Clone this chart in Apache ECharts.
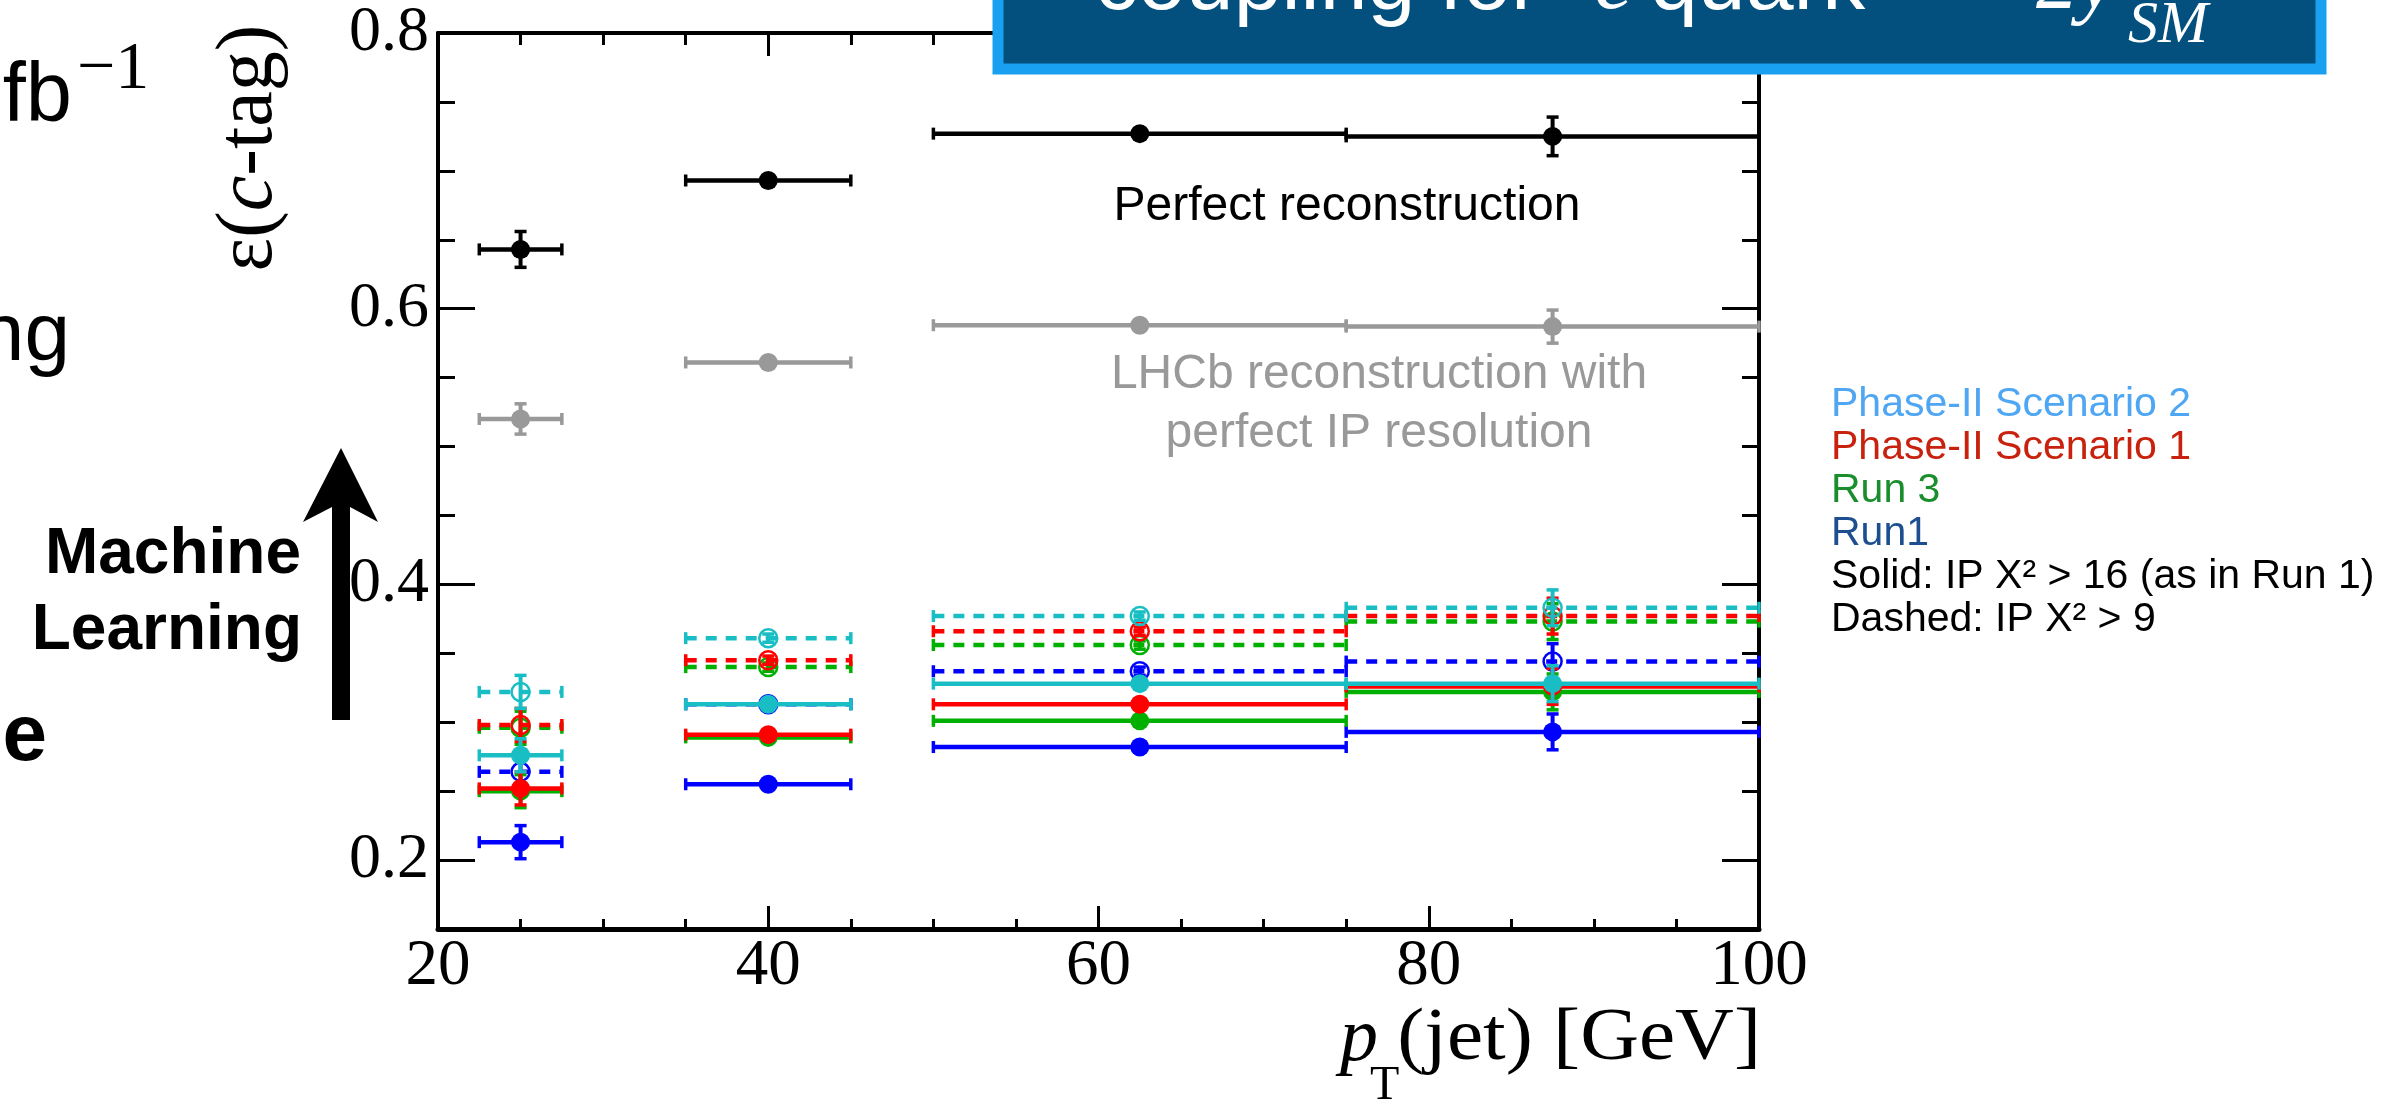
<!DOCTYPE html>
<html>
<head>
<meta charset="utf-8">
<script src="https://cdn.jsdelivr.net/npm/echarts@6/dist/echarts.min.js"></script>
<style>
html,body{margin:0;padding:0;background:#fff;}
#chart{width:2397px;height:1102px;}
</style>
</head>
<body>
<div id="chart"></div>
<script>
// ---- data ----
const ptBinCenter = [25, 40, 62.5, 87.5];
const ptBinLow    = [22.5, 35, 50, 75];
const ptBinHigh   = [27.5, 45, 75, 100];

const effPerfect      = [0.643, 0.693, 0.727, 0.725];
const errPerfect      = [0.013, 0.003, 0.003, 0.014];
const effLhcbPerfIP   = [0.520, 0.561, 0.588, 0.587];
const errLhcbPerfIP   = [0.011, 0.003, 0.003, 0.012];

const effPh2S2Solid   = [0.276, 0.313, 0.328, 0.328];
const effPh2S2Dashed  = [0.322, 0.361, 0.377, 0.383];
const effPh2S1Solid   = [0.252, 0.291, 0.313, 0.326];
const effPh2S1Dashed  = [0.298, 0.345, 0.366, 0.377];
const effRun3Solid    = [0.250, 0.289, 0.301, 0.322];
const effRun3Dashed   = [0.296, 0.340, 0.356, 0.373];
const effRun1Solid    = [0.213, 0.255, 0.282, 0.293];
const effRun1Dashed   = [0.264, 0.313, 0.337, 0.344];
const errScenario     = [0.012, 0.003, 0.003, 0.013];

const yLabelValues = [0.2, 0.4, 0.6, 0.8];
const yMajorTickValues = [0.2, 0.4, 0.6];

const legendLines = [
  'Phase-II Scenario 2',
  'Phase-II Scenario 1',
  'Run 3',
  'Run1',
  'Solid: IP X² > 16 (as in Run 1)',
  'Dashed: IP X² > 9'
];

// ---- build series ----
const COL = {cyan:'#18BEC4', red:'#FF0000', green:'#00B000', blue:'#0000FF', gray:'#999999', black:'#000000'};
const seriesDefs = [
  {name:'Run1 dashed', v:effRun1Dashed, e:errScenario, c:COL.blue, dashed:true, open:true},
  {name:'Run3 dashed', v:effRun3Dashed, e:errScenario, c:COL.green, dashed:true, open:true},
  {name:'Ph2S1 dashed', v:effPh2S1Dashed, e:errScenario, c:COL.red, dashed:true, open:true},
  {name:'Ph2S2 dashed', v:effPh2S2Dashed, e:errScenario, c:COL.cyan, dashed:true, open:true},
  {name:'Run1 solid', v:effRun1Solid, e:errScenario, c:COL.blue, dashed:false, open:false},
  {name:'Run3 solid', v:effRun3Solid, e:errScenario, c:COL.green, dashed:false, open:false},
  {name:'Ph2S1 solid', v:effPh2S1Solid, e:errScenario, c:COL.red, dashed:false, open:false},
  {name:'Ph2S2 solid', v:effPh2S2Solid, e:errScenario, c:COL.cyan, dashed:false, open:false},
  {name:'LHCb perfect IP', v:effLhcbPerfIP, e:errLhcbPerfIP, c:COL.gray, dashed:false, open:false},
  {name:'Perfect reconstruction', v:effPerfect, e:errPerfect, c:COL.black, dashed:false, open:false}
];

function makeRender(def){
  return function(params, api){
    const xc = api.value(0), y = api.value(1), xl = api.value(2), xh = api.value(3), e = api.value(4);
    const pL = api.coord([xl, y]), pR = api.coord([xh, y]), pC = api.coord([xc, y]);
    const pT = api.coord([xc, y + e]), pB = api.coord([xc, y - e]);
    const lw = 4.5;
    const kids = [
      {type:'line', shape:{x1:pL[0], y1:pL[1], x2:pR[0], y2:pR[1]},
       style:{stroke:def.c, lineWidth:lw, lineDash: def.dashed ? [11, 9] : null}},
      {type:'line', shape:{x1:pL[0], y1:pL[1]-6, x2:pL[0], y2:pL[1]+6}, style:{stroke:def.c, lineWidth:3.5}},
      {type:'line', shape:{x1:pR[0], y1:pR[1]-6, x2:pR[0], y2:pR[1]+6}, style:{stroke:def.c, lineWidth:3.5}},
      {type:'line', shape:{x1:pT[0], y1:pT[1], x2:pB[0], y2:pB[1]}, style:{stroke:def.c, lineWidth:4}},
      {type:'line', shape:{x1:pT[0]-6, y1:pT[1], x2:pT[0]+6, y2:pT[1]}, style:{stroke:def.c, lineWidth:3.5}},
      {type:'line', shape:{x1:pB[0]-6, y1:pB[1], x2:pB[0]+6, y2:pB[1]}, style:{stroke:def.c, lineWidth:3.5}},
      def.open
        ? {type:'circle', shape:{cx:pC[0], cy:pC[1], r:9}, style:{fill:'none', stroke:def.c, lineWidth:2.5}}
        : {type:'circle', shape:{cx:pC[0], cy:pC[1], r:9.5}, style:{fill:def.c, stroke:def.c, lineWidth:0}}
    ];
    return {type:'group', children:kids};
  };
}

const series = seriesDefs.map(def => ({
  type:'custom',
  name:def.name,
  xAxisIndex:0, yAxisIndex:0,
  renderItem: makeRender(def),
  encode:{x:0, y:1},
  data: ptBinCenter.map((xc, i) => [xc, def.v[i], ptBinLow[i], ptBinHigh[i], def.e[i]]),
  clip:false,
  silent:true,
  z:5
}));

// ---- axes ----
const serif = '"Liberation Serif", "Times New Roman", serif';
const sans = '"Liberation Sans", Arial, Helvetica, sans-serif';
const yMin = 0.15, yMax = 0.8;

function yAxisMinor(pos){
  return {type:'value', position:pos, min:yMin, max:yMax, interval:0.05, gridIndex:0,
    axisLine:{show:true, onZero:false, lineStyle:{color:'#000', width:4}},
    axisTick:{show:true, inside:true, length:17, lineStyle:{color:'#000', width:3}},
    splitLine:{show:false},
    axisLabel: pos === 'left' ? {
      show:true, customValues:yLabelValues, margin:9, color:'#000', fontSize:64, fontFamily:serif,
      formatter: v => v.toFixed(1)
    } : {show:false}
  };
}
function yAxisMajor(pos){
  return {type:'value', position:pos, min:yMin, max:yMax, interval:0.05, gridIndex:0,
    axisLine:{show:false},
    axisTick:{show:true, inside:true, length:37, customValues:yMajorTickValues, lineStyle:{color:'#000', width:3}},
    splitLine:{show:false}, axisLabel:{show:false}
  };
}
function xAxisDef(pos){
  return {type:'value', position:pos, min:20, max:100, interval:20, gridIndex:0,
    axisLine:{show:true, onZero:false, lineStyle:{color:'#000', width: pos==='bottom' ? 5 : 4}},
    axisTick:{show:true, inside:true, length:23, lineStyle:{color:'#000', width:3}},
    minorTick:{show:true, splitNumber:4, length: pos==='bottom' ? 10 : 12, lineStyle:{color:'#000', width:3}},
    splitLine:{show:false}, minorSplitLine:{show:false},
    axisLabel: pos==='bottom' ? {show:true, margin:5, color:'#000', fontSize:65, fontFamily:serif} : {show:false}
  };
}

// ---- graphic decorations & texts ----
function txt(x, y, text, opt, extra){
  return Object.assign({type:'text', x:x, y:y, z:120, silent:true,
    style:Object.assign({text:text, fill:'#000', align:'left', verticalAlign:'middle'}, opt || {})}, extra || {});
}

const graphics = [
  // slide left text fragments
  txt(72, 98, 'fb', {align:'right', fontSize:83, fontFamily:sans}),
  txt(77, 70, '\u22121', {fontSize:68, fontFamily:serif}),
  txt(70, 337, 'ng', {align:'right', fontSize:82, fontFamily:sans}),
  txt(47, 738, 'e', {align:'right', fontSize:80, fontWeight:'bold', fontFamily:sans}),
  txt(301, 555, 'Machine', {align:'right', fontSize:64, fontWeight:'bold', fontFamily:sans}),
  txt(302, 631, 'Learning', {align:'right', fontSize:64, fontWeight:'bold', fontFamily:sans}),
  {type:'polygon', z:120, silent:true,
   shape:{points:[[341,448],[378,522],[350,507],[350,720],[332,720],[332,507],[303,522]]},
   style:{fill:'#000'}},
  // axis titles
  {type:'text', x:250, y:148, rotation:Math.PI/2, z:120, silent:true,
   style:{text:'{a|\u03B5(}{i|c}{a|-tag)}', align:'center', verticalAlign:'middle',
     rich:{a:{fontSize:80, fontFamily:serif, fill:'#000'},
           i:{fontSize:80, fontFamily:serif, fontStyle:'italic', fill:'#000'}}}},
  txt(1340, 1040, 'p', {fontSize:76, fontStyle:'italic', fontFamily:serif}),
  txt(1370, 1086, 'T', {fontSize:48, fontFamily:serif}),
  txt(1761, 1040, '(jet) [GeV]', {align:'right', fontSize:74, fontFamily:serif}, {scaleX:1.1}),
  // in-plot annotations
  txt(1347, 207, 'Perfect reconstruction', {align:'center', fontSize:48, fontFamily:sans}),
  txt(1379, 375, 'LHCb reconstruction with', {align:'center', fontSize:48, fontFamily:sans, fill:'#999999'}),
  txt(1379, 434, 'perfect IP resolution', {align:'center', fontSize:48, fontFamily:sans, fill:'#999999'}),
  // title box
  {type:'rect', z:110, silent:true, shape:{x:998, y:-20, width:1323, height:89},
   style:{fill:'#03507F', stroke:'#1AA0F0', lineWidth:11}},
  txt(1095, -15, 'coupling for', {fontSize:86, fontFamily:sans, fill:'#fff'}),
  txt(1594, -15, 'c', {fontSize:88, fontStyle:'italic', fontFamily:serif, fill:'#fff'}),
  txt(1650, -15, 'quark', {fontSize:86, fontFamily:sans, fill:'#fff'}),
  txt(1905, -5, '~', {fontSize:86, fontFamily:sans, fill:'#fff'}),
  txt(2036, -14, '2y', {fontSize:84, fontStyle:'italic', fontFamily:serif, fill:'#fff'}),
  txt(2128, 26, 'SM', {fontSize:60, fontStyle:'italic', fontFamily:serif, fill:'#fff'})
];
// legend texts at right
const legendColors = ['#4FA6F2', '#C8220E', '#1A8E2C', '#1D4E90', '#000', '#000'];
legendLines.forEach((s, i) => {
  graphics.push(txt(1831, 405 + 43 * i, s, {fontSize:41, fontFamily:sans, fill:legendColors[i]}));
});

const option = {
  animation:false,
  backgroundColor:'#ffffff',
  grid:{left:438, right:638, top:33, bottom:173, containLabel:false},
  xAxis:[xAxisDef('bottom'), xAxisDef('top')],
  yAxis:[yAxisMinor('left'), yAxisMajor('left'), yAxisMinor('right'), yAxisMajor('right')],
  series:series,
  graphic:{elements:graphics}
};

const chart = echarts.init(document.getElementById('chart'), null, {renderer:'canvas'});
chart.setOption(option);
</script>
</body>
</html>
